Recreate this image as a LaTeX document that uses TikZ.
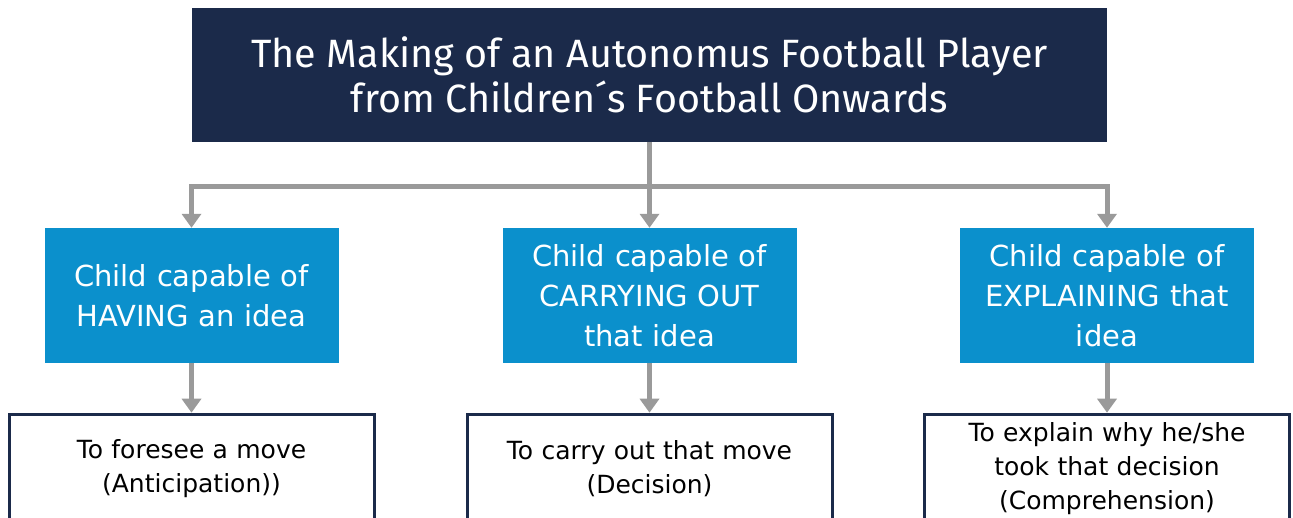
\documentclass[tikz,border=0pt]{standalone}
\usepackage{fontspec}
\setmainfont{DejaVu Sans}
\newfontfamily\titlefont{Fira Sans}
\usepackage{xcolor}
\usetikzlibrary{positioning,arrows.meta}
\definecolor{navy}{HTML}{1B2A4A}
\definecolor{skyblue}{HTML}{0B90CC}
\definecolor{linkgray}{HTML}{9A9A9A}

\begin{document}
\begin{tikzpicture}[x=1pt,y=-1pt,
  titlebox/.style={fill=navy,text=white,minimum width=915pt,minimum height=134pt,
    align=center,inner sep=0pt,font=\titlefont\fontsize{39.5}{45}\selectfont},
  ideabox/.style={fill=skyblue,text=white,minimum width=294pt,minimum height=135pt,
    text width=280pt,align=center,inner sep=0pt,font=\fontsize{29}{40}\selectfont},
  movebox/.style={draw=navy,line width=3pt,fill=white,minimum width=365pt,
    text width=350pt,minimum height=108pt,align=center,inner sep=0pt,
    font=\fontsize{25}{34}\selectfont},
  link/.style={draw=linkgray,line width=5pt},
  arr/.style={link,-{Triangle[width=19pt,length=14pt]}}]
\useasboundingbox (0,0) rectangle (1293,517);
\clip (0,0) rectangle (1293,517);
\node [titlebox] (title) at (649.5,75) {The Making of an Autonomus Football Player\\from Children´s Football Onwards};
\node [ideabox] (having) at (191.5,295.5) {Child capable of\\HAVING an idea};
\node [ideabox] (carrying) at (649.5,295.5) {Child capable of\\CARRYING OUT\\that idea};
\node [ideabox] (explaining) at (1107,295.5) {Child capable of\\EXPLAINING that\\idea};
\node [movebox,below=49.5pt of having] (foresee) {To foresee a move\\(Anticipation))};
\node [movebox,below=49.5pt of carrying] (decision) {To carry out that move\\(Decision)};
\node [movebox,below=49.5pt of explaining] (comprehension) {To explain why he/she\\took that decision\\(Comprehension)};
\coordinate (bar) at (649.5,186);
\draw [arr] (title.south) -- (carrying.north);
\draw [arr] (bar) -| (having.north);
\draw [arr] (bar) -| (explaining.north);
\draw [arr] (having) -- (foresee);
\draw [arr] (carrying) -- (decision);
\draw [arr] (explaining) -- (comprehension);
\end{tikzpicture}
\end{document}
